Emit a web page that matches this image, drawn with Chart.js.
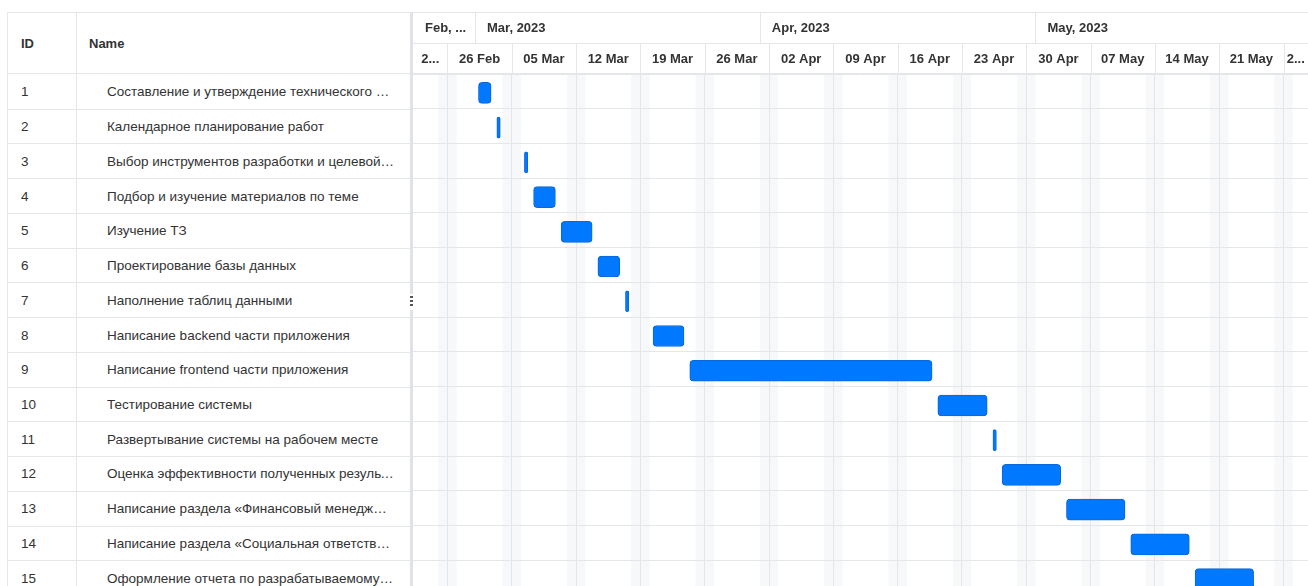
<!DOCTYPE html>
<html>
<head>
<meta charset="utf-8">
<title>Gantt</title>
<script src="https://cdn.jsdelivr.net/npm/chart.js@4.4.0/dist/chart.umd.min.js"></script>
<style>
  body { margin: 0; width: 1308px; height: 586px; overflow: hidden; background: #fff;
         font-family: 'Liberation Sans', Arial, sans-serif; color: #333; position: relative; }
  .line { position: absolute; background: #e4e6ea; }
  .cell { position: absolute; font-size: 13.5px; white-space: nowrap; overflow: hidden;
          text-overflow: ellipsis; line-height: 16px; }
  .head { font-weight: bold; font-size: 13px; }
  #chartBox { position: absolute; left: 413px; top: 12px; }
  #splitter { position: absolute; left: 410px; top: 12px; width: 3px; height: 582px; background: #dfe2e6; }
  #grip { position: absolute; left: 410px; top: 294px; width: 3px; height: 16px; background: #fff; }
  .dot { position: absolute; left: 410px; width: 3px; height: 2px; background: #555; }
</style>
</head>
<body>
<div id="table"></div>
<div id="splitter"></div>
<div id="grip"></div>
<div class="dot" style="top:296px"></div>
<div class="dot" style="top:300px"></div>
<div class="dot" style="top:304px"></div>
<div id="chartBox"><canvas id="gantt" width="895" height="583"></canvas></div>
<script>
const ids = ['1', '2', '3', '4', '5', '6', '7', '8', '9', '10', '11', '12', '13', '14', '15']
const taskNames = [
  'Составление и утверждение технического задания',
  'Календарное планирование работ',
  'Выбор инструментов разработки и целевой платформы',
  'Подбор и изучение материалов по теме',
  'Изучение ТЗ',
  'Проектирование базы данных',
  'Наполнение таблиц данными',
  'Написание backend части приложения',
  'Написание frontend части приложения',
  'Тестирование системы',
  'Развертывание системы на рабочем месте',
  'Оценка эффективности полученных результатов',
  'Написание раздела «Финансовый менеджмент, ресурсоэффективность и ресурсосбережение»',
  'Написание раздела «Социальная ответственность»',
  'Оформление отчета по разрабатываемому приложению'
]
const taskStart = ['2023-03-01', '2023-03-03', '2023-03-06', '2023-03-07', '2023-03-10', '2023-03-14', '2023-03-17',
  '2023-03-20', '2023-03-24', '2023-04-20', '2023-04-26', '2023-04-27', '2023-05-04', '2023-05-11', '2023-05-18']
const taskEnd = ['2023-03-02', '2023-03-03', '2023-03-06', '2023-03-09', '2023-03-13', '2023-03-16', '2023-03-17',
  '2023-03-23', '2023-04-19', '2023-04-25', '2023-04-26', '2023-05-03', '2023-05-10', '2023-05-17', '2023-05-24']

// header scales
const monthStarts = ['2023-02-01', '2023-03-01', '2023-04-01', '2023-05-01', '2023-06-01']
const monthLabels = ['Feb, 2023', 'Mar, 2023', 'Apr, 2023', 'May, 2023']
const weekStarts = ['2023-02-22', '2023-02-26', '2023-03-05', '2023-03-12', '2023-03-19', '2023-03-26', '2023-04-02',
  '2023-04-09', '2023-04-16', '2023-04-23', '2023-04-30', '2023-05-07', '2023-05-14', '2023-05-21', '2023-05-28', '2023-06-04']
const weekLabels = ['22 Feb', '26 Feb', '05 Mar', '12 Mar', '19 Mar', '26 Mar', '02 Apr',
  '09 Apr', '16 Apr', '23 Apr', '30 Apr', '07 May', '14 May', '21 May', '28 May']
const viewStart = '2023-02-22T06:00'
const viewEnd = '2023-05-30T16:00'

const DAY = 86400000
const t = s => Date.parse(s.length > 10 ? s + 'Z' : s + 'T00:00Z')
const LINE = '#e4e6ea'

function fit (ctx, text, w) {
  if (ctx.measureText(text).width <= w) return text
  let s = text
  while (s.length && ctx.measureText(s + '...').width > w) s = s.slice(0, -1)
  return s + '...'
}

// weekend stripes under the grid
const weekendPlugin = {
  id: 'weekends',
  beforeDraw (chart) {
    const { ctx, chartArea: a } = chart
    const xs = chart.scales.x
    ctx.save()
    ctx.fillStyle = '#f7f8fa'
    for (let d = Math.floor(xs.min / DAY) * DAY; d < xs.max; d += DAY) {
      const wd = new Date(d).getUTCDay()
      if (wd !== 0 && wd !== 6) continue
      const x1 = Math.max(xs.getPixelForValue(d), a.left)
      const x2 = Math.min(xs.getPixelForValue(d + DAY), a.right)
      ctx.fillRect(x1, a.top, x2 - x1, a.bottom - a.top)
    }
    ctx.restore()
  },
  // bars sit a touch below the row middle
  beforeDatasetsDraw (chart) {
    chart.ctx.save()
    chart.ctx.translate(0, 1.5)
  },
  afterDatasetsDraw (chart) {
    chart.ctx.restore()
  }
}

// two tier timeline header
const headerPlugin = {
  id: 'timelineHeader',
  afterDraw (chart) {
    const { ctx, chartArea: a } = chart
    const xs = chart.scales.x
    const yTop = 0.5, yMid = 31.5, yBot = a.top - 0.5
    ctx.save()
    ctx.fillStyle = '#fff'
    ctx.fillRect(a.left, 0, a.right - a.left, a.top)
    ctx.strokeStyle = LINE
    ctx.lineWidth = 1
    ctx.beginPath()
    ctx.moveTo(a.left, yTop); ctx.lineTo(a.right, yTop)
    ctx.moveTo(a.left, yMid); ctx.lineTo(a.right, yMid)
    ctx.moveTo(a.left, yBot); ctx.lineTo(a.right, yBot)
    ctx.stroke()
    ctx.font = 'bold 13px "Liberation Sans", Arial, sans-serif'
    ctx.fillStyle = '#333'
    ctx.textBaseline = 'middle'

    monthLabels.forEach((lab, i) => {
      const l = Math.max(xs.getPixelForValue(t(monthStarts[i])), a.left)
      const r = Math.min(xs.getPixelForValue(t(monthStarts[i + 1])), a.right)
      if (r <= l) return
      if (l > a.left) {
        ctx.beginPath(); ctx.moveTo(Math.round(l) + 0.5, yTop); ctx.lineTo(Math.round(l) + 0.5, yMid); ctx.stroke()
      }
      ctx.textAlign = 'left'
      ctx.fillText(fit(ctx, lab, r - l - 18), l + 12, 16.5)
    })

    weekLabels.forEach((lab, i) => {
      const l = Math.max(xs.getPixelForValue(t(weekStarts[i])), a.left)
      const r = Math.min(xs.getPixelForValue(t(weekStarts[i + 1])), a.right)
      if (r <= l) return
      if (l > a.left) {
        ctx.beginPath(); ctx.moveTo(Math.round(l) + 0.5, yMid); ctx.lineTo(Math.round(l) + 0.5, yBot); ctx.stroke()
      }
      ctx.textAlign = 'center'
      ctx.fillText(fit(ctx, lab, Math.max(r - l - 12, 20)), (l + r) / 2, 47.5)
    })
    ctx.restore()
  }
}

const chart = new Chart(document.getElementById('gantt'), {
  type: 'bar',
  data: {
    labels: ids,
    datasets: [{
      data: taskStart.map((s, i) => [t(s + 'T09:00'), t(taskEnd[i] + 'T18:00')]),
      backgroundColor: '#0078ff',
      borderColor: '#0a68d8',
      borderWidth: 1,
      borderRadius: 4,
      borderSkipped: false,
      barThickness: 21
    }]
  },
  options: {
    indexAxis: 'y',
    responsive: false,
    animation: false,
    layout: { padding: { top: 62, left: 0, right: 0, bottom: 0 } },
    plugins: { legend: { display: false }, tooltip: { enabled: false } },
    scales: {
      x: {
        type: 'linear',
        position: 'top',
        min: t(viewStart),
        max: t(viewEnd),
        afterBuildTicks: scale => {
          scale.ticks = weekStarts.map(t).filter(v => v > scale.min && v < scale.max).map(v => ({ value: v }))
        },
        ticks: { display: false },
        grid: { color: LINE, drawTicks: false },
        border: { display: false }
      },
      y: {
        type: 'category',
        offset: true,
        ticks: { display: false },
        grid: { color: LINE, drawTicks: false, offset: true },
        border: { display: false }
      }
    }
  },
  plugins: [weekendPlugin, headerPlugin]
})

// left grid, rows aligned with the chart's category scale
const box = document.getElementById('table')
const ys = chart.scales.y
const area = chart.chartArea
const rowH = (area.bottom - area.top) / ids.length
const TOP = 12
let html = ''
const add = (cls, style, text) => { html += `<div class="${cls}" style="${style}">${text || ''}</div>` }
add('line', `left:7px;top:${TOP}px;width:403px;height:1px`)
add('line', `left:7px;top:${TOP}px;width:1px;height:600px`)
add('line', `left:76px;top:${TOP}px;width:1px;height:600px`)
add('line', `left:7px;top:${TOP + area.top - 1}px;width:403px;height:1px`)
add('cell head', `left:21px;top:${TOP + area.top / 2 - 7}px;width:50px`, 'ID')
add('cell head', `left:89px;top:${TOP + area.top / 2 - 7}px;width:300px`, 'Name')
ids.forEach((id, i) => {
  const c = TOP + ys.getPixelForValue(i) + 1
  add('cell', `left:21px;top:${c - 8}px;width:50px`, id)
  add('cell', `left:107px;top:${c - 8}px;width:288px`, taskNames[i])
  add('line', `left:7px;top:${Math.round(c - 1 + rowH / 2)}px;width:403px;height:1px`)
})
box.innerHTML = html
</script>
</body>
</html>
